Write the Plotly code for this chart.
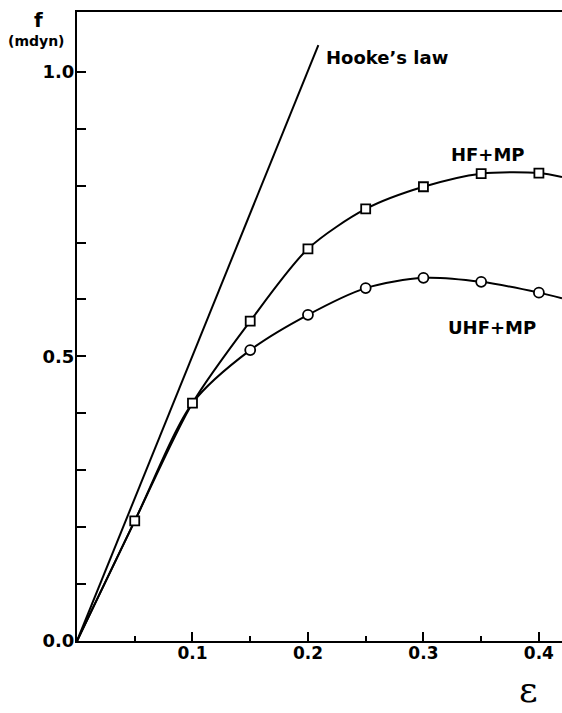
import plotly.graph_objects as go

# strain values (epsilon) at which points were computed
eps_hf = [0.05, 0.10, 0.15, 0.20, 0.25, 0.30, 0.35, 0.40]
f_hf = [0.211, 0.418, 0.562, 0.689, 0.759, 0.798, 0.821, 0.822]

eps_uhf = [0.15, 0.20, 0.25, 0.30, 0.35, 0.40]
f_uhf = [0.511, 0.573, 0.620, 0.638, 0.631, 0.612]

# smooth curves drawn through the points (from origin, to the right edge)
eps_hf_curve = [0.0, 0.05, 0.10, 0.15, 0.20, 0.25, 0.30, 0.35, 0.40, 0.42]
f_hf_curve = [0.0, 0.211, 0.418, 0.562, 0.689, 0.759, 0.798, 0.821, 0.822, 0.815]
eps_uhf_curve = [0.0, 0.05, 0.10, 0.15, 0.20, 0.25, 0.30, 0.35, 0.40, 0.42]
f_uhf_curve = [0.0, 0.211, 0.418, 0.511, 0.573, 0.620, 0.638, 0.631, 0.612, 0.602]

# Hooke's law straight line
eps_hooke = [0.0, 0.209]
f_hooke = [0.0, 1.047]

x_tickvals = [0.1, 0.2, 0.3, 0.4]
x_ticktext = ["0.1", "0.2", "0.3", "0.4"]
x_minorvals = [0.05, 0.15, 0.25, 0.35]
y_tickvals = [0.0, 0.1, 0.2, 0.3, 0.4, 0.5, 0.6, 0.7, 0.8, 0.9, 1.0]
y_ticktext = ["0.0", "", "", "", "", "0.5", "", "", "", "", "1.0"]

FONT = "DejaVu Sans, sans-serif"
LW = 2

fig = go.Figure()
fig.add_trace(go.Scatter(x=eps_hooke, y=f_hooke, mode="lines",
                         line=dict(color="black", width=LW), showlegend=False))
fig.add_trace(go.Scatter(x=eps_hf_curve, y=f_hf_curve, mode="lines",
                         line=dict(color="black", width=LW, shape="spline", smoothing=0.8),
                         showlegend=False))
fig.add_trace(go.Scatter(x=eps_uhf_curve, y=f_uhf_curve, mode="lines",
                         line=dict(color="black", width=LW, shape="spline", smoothing=0.8),
                         showlegend=False))
fig.add_trace(go.Scatter(x=eps_hf, y=f_hf, mode="markers",
                         marker=dict(symbol="square", size=9, color="white",
                                     line=dict(color="black", width=1.8)),
                         showlegend=False))
fig.add_trace(go.Scatter(x=eps_uhf, y=f_uhf, mode="markers",
                         marker=dict(symbol="circle", size=10, color="white",
                                     line=dict(color="black", width=1.8)),
                         showlegend=False))

fig.update_layout(
    width=562, height=713,
    margin=dict(l=77, r=0, t=12, b=72),
    paper_bgcolor="white", plot_bgcolor="white",
    font=dict(family=FONT, color="black"),
    xaxis=dict(range=[0, 0.42], showgrid=False, zeroline=False,
               showline=True, linecolor="black", linewidth=2, mirror=True,
               ticks="inside", ticklen=9, tickwidth=1.5, tickcolor="black",
               tickvals=x_tickvals, ticktext=x_ticktext,
               tickfont=dict(size=17, family=FONT, weight="bold"),
               ticklabelstandoff=-4,
               minor=dict(tickvals=x_minorvals, ticks="inside", ticklen=5,
                          tickwidth=1.5, tickcolor="black")),
    yaxis=dict(range=[0, 1.105], showgrid=False, zeroline=False,
               showline=True, linecolor="black", linewidth=2,
               ticks="inside", ticklen=9, tickwidth=1.5, tickcolor="black",
               tickvals=y_tickvals, ticktext=y_ticktext,
               tickfont=dict(size=18, family=FONT, weight="bold"),
               ticklabelstandoff=-3),
)

def ann(text, x, y, size, xanchor="center", yanchor="middle", bold=True, family=FONT):
    fig.add_annotation(text=text, x=x, y=y,
                       xref="paper", yref="paper", showarrow=False, xanchor=xanchor,
                       yanchor=yanchor,
                       font=dict(size=size, family=family, color="black",
                                 weight="bold" if bold else "normal"))

ann("Hooke’s law", 0.509, 0.928, 18, xanchor="left")
ann("HF+MP", 0.847, 0.773, 18)
ann("UHF+MP", 0.856, 0.498, 18)
ann("f", -0.0804, 0.987, 20)
ann("(mdyn)", -0.0845, 0.954, 14)
ann("ε", 0.93, -0.1128, 36, yanchor="bottom", bold=False, family="DejaVu Serif, serif")

fig.write_html(
    "out.html",
    config={"displayModeBar": False},
    post_script="document.body.style.margin='0';document.body.style.overflow='hidden';",
)
